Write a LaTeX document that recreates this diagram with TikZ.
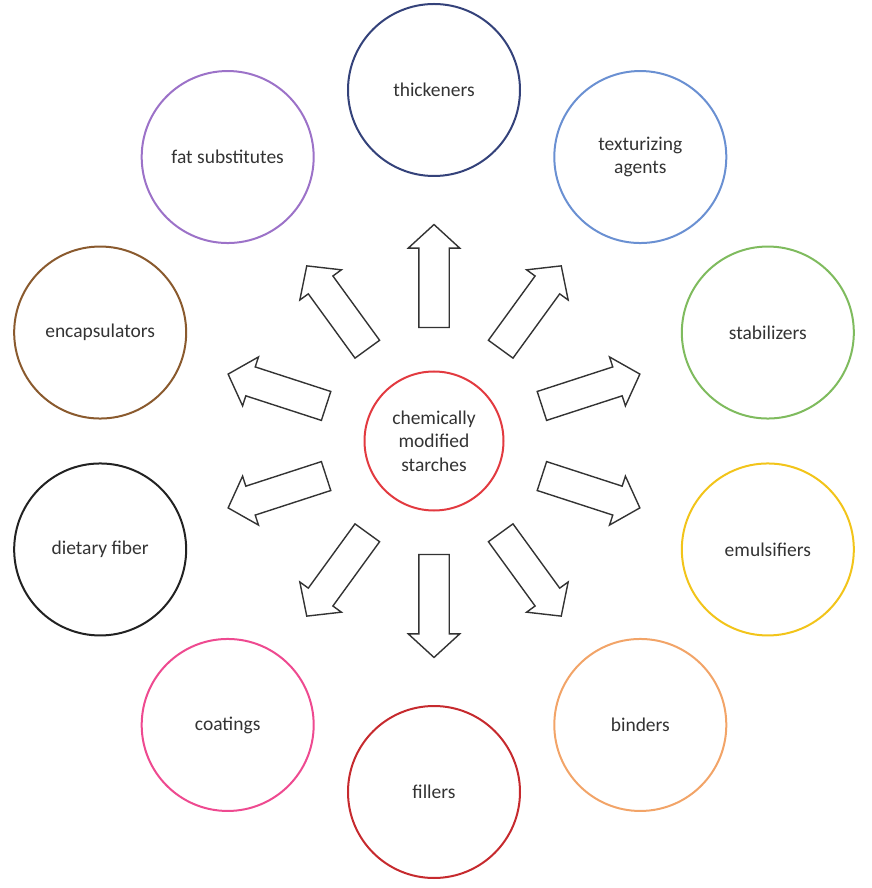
\documentclass[tikz,border=0pt]{standalone}
\usepackage{fontspec}
\setmainfont{Carlito}
\usetikzlibrary{shapes.arrows}

\definecolor{cThick}{HTML}{34427A}
\definecolor{cText}{HTML}{6A90D2}
\definecolor{cStab}{HTML}{7FBB5E}
\definecolor{cEmul}{HTML}{F2C41A}
\definecolor{cBind}{HTML}{F2A468}
\definecolor{cFill}{HTML}{C62A2E}
\definecolor{cCoat}{HTML}{EE4A90}
\definecolor{cFibr}{HTML}{222222}
\definecolor{cEnca}{HTML}{8A5A2E}
\definecolor{cFats}{HTML}{9C72C8}
\definecolor{cHub}{HTML}{E23A40}

\begin{document}
\begin{tikzpicture}[x=1pt, y=1pt,
    every node/.style={font=\fontsize{19.5}{23.5}\selectfont, text=black!80},
    use circle/.style={draw, circle, line width=2pt, minimum size=172pt, inner sep=0pt, align=center},
    hub/.style={draw=cHub, circle, line width=2pt, minimum size=139pt, inner sep=0pt, align=center},
    blockarr/.style={draw=black!80, line width=1.4pt, single arrow, minimum height=103pt,
        inner xsep=0pt, inner ysep=14.5pt, single arrow head extend=10.5pt,
        single arrow head indent=0pt, single arrow tip angle=95}]

    % page frame
    \useasboundingbox (-434,-447) rectangle (437,441);

    % centre
    \node[hub] (hub) at (0,0) {chemically\\modified\\starches};

    % uses around the centre, every 36 degrees
    \foreach \a/\name/\lbl/\col in {90/thick/thickeners/cThick, 54/textur/{texturizing\\agents}/cText,
        18/stab/stabilizers/cStab, -18/emul/emulsifiers/cEmul, -54/bind/binders/cBind,
        -90/fill/fillers/cFill, -126/coat/coatings/cCoat, -162/fibr/dietary fiber/cFibr,
        162/enca/encapsulators/cEnca, 126/fats/fat substitutes/cFats}
    {
        \node[use circle, draw=\col] (\name) at (\a:351) {\lbl};
        \node[blockarr, rotate=\a] (arr-\name) at (\a:158) {};
    }
\end{tikzpicture}
\end{document}
